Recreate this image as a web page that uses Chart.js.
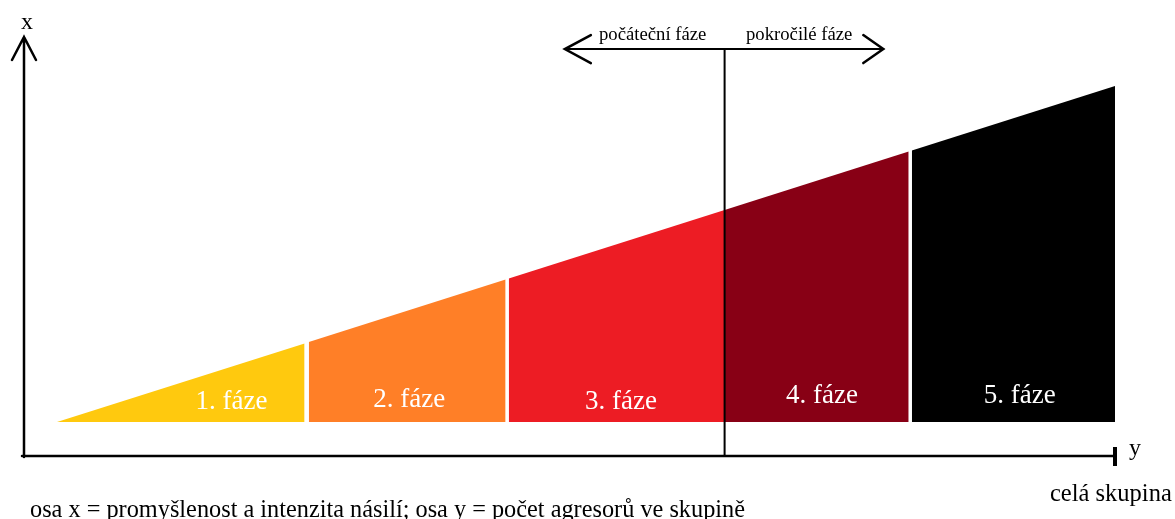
<!DOCTYPE html>
<html>
<head>
<meta charset="utf-8">
<script src="https://cdn.jsdelivr.net/npm/chart.js@4.4.0/dist/chart.umd.min.js"></script>
<style>
    html, body { margin: 0; padding: 0; background: #fff; }
    #wrap { width: 1175px; height: 519px; }
</style>
</head>
<body>
<div id="wrap"><canvas id="myChart" width="1175" height="519"></canvas></div>
<script>
// phases of the wedge: x = size of the group, y = intensity
var phaseLabels = ['1. fáze', '2. fáze', '3. fáze', '4. fáze', '5. fáze'];
var phaseStart = [0, 23.8, 42.7, 63.1, 80.8];
var phaseEnd = [23.4, 42.4, 63.1, 80.5, 100];
var heightStart = [0, 23.8, 42.7, 63.1, 80.8];
var heightEnd = [23.4, 42.4, 63.1, 80.5, 100];
var phaseColors = ['#ffc90e', '#ff7f27', '#ed1c24', '#880015', '#000000'];

// where the text of each phase sits
var labelX = [16.5, 33.3, 53.3, 72.3, 91.0];
var labelY = [3.9, 4.5, 3.9, 5.6, 5.6];

// border between early and advanced phases + the double arrow above it
var dividerX = phaseEnd[2];
var arrowFrom = 48.0, arrowTo = 78.1, arrowY = 111;

var datasets = [];
phaseLabels.forEach(function(lbl, i) {
    datasets.push({
        label: lbl,
        data: [{ x: phaseStart[i], y: heightStart[i] }, { x: phaseEnd[i], y: heightEnd[i] }],
        backgroundColor: phaseColors[i],
        borderWidth: 0,
        pointRadius: 0,
        fill: { value: 0 },
        tension: 0
    });
});

var serif = '"Liberation Serif", "Times New Roman", serif';

// axes, arrows and texts
var sketchPlugin = {
    id: 'sketch',
    afterDatasetsDraw: function(chart) {
        var ctx = chart.ctx;
        var xs = chart.scales.x, ys = chart.scales.y;
        var left = chart.chartArea.left, bottom = chart.chartArea.bottom, top = chart.chartArea.top;
        var right = xs.getPixelForValue(100);

        ctx.save();
        ctx.strokeStyle = '#000';
        ctx.fillStyle = '#000';
        ctx.lineWidth = 2.5;
        ctx.lineCap = 'round';

        // y axis with arrow
        ctx.beginPath();
        ctx.moveTo(left, bottom + 1);
        ctx.lineTo(left, top);
        ctx.moveTo(left - 12, top + 23);
        ctx.lineTo(left, top);
        ctx.lineTo(left + 12, top + 23);
        ctx.stroke();

        // x axis with end bar
        ctx.beginPath();
        ctx.moveTo(left - 2, bottom);
        ctx.lineTo(right, bottom);
        ctx.stroke();
        ctx.fillRect(right - 2, bottom - 9, 4, 19);

        // divider + double arrow
        var dx = xs.getPixelForValue(dividerX);
        var ay = ys.getPixelForValue(arrowY);
        var a1 = xs.getPixelForValue(arrowFrom), a2 = xs.getPixelForValue(arrowTo);
        ctx.lineWidth = 2;
        ctx.beginPath();
        ctx.moveTo(dx, ay);
        ctx.lineTo(dx, bottom);
        ctx.moveTo(a1, ay);
        ctx.lineTo(a2, ay);
        ctx.stroke();
        ctx.lineWidth = 2.5;
        ctx.beginPath();
        ctx.moveTo(a1 + 26, ay - 14);
        ctx.lineTo(a1, ay);
        ctx.lineTo(a1 + 26, ay + 14);
        ctx.moveTo(a2 - 20, ay - 14);
        ctx.lineTo(a2, ay);
        ctx.lineTo(a2 - 20, ay + 14);
        ctx.stroke();

        // phase names
        ctx.fillStyle = '#fff';
        ctx.font = '27px ' + serif;
        ctx.textAlign = 'center';
        ctx.textBaseline = 'alphabetic';
        phaseLabels.forEach(function(lbl, i) {
            ctx.fillText(lbl, xs.getPixelForValue(labelX[i]), ys.getPixelForValue(labelY[i]));
        });

        ctx.fillStyle = '#000';
        ctx.font = '18.7px ' + serif;
        ctx.textAlign = 'left';
        ctx.fillText('počáteční fáze', 599, 40);
        ctx.fillText('pokročilé fáze', 746, 40);

        ctx.font = '24px ' + serif;
        ctx.textAlign = 'center';
        ctx.fillText('x', 27, 29);
        ctx.fillText('y', 1135, 455);

        ctx.font = '24.5px ' + serif;
        ctx.textAlign = 'left';
        ctx.fillText('celá skupina', 1050, 501);
        ctx.font = '24.3px ' + serif;
        ctx.fillText('osa x = promyšlenost a intenzita násilí; osa y = počet agresorů ve skupině', 30, 517);
        ctx.restore();
    }
};

var ctx = document.getElementById('myChart').getContext('2d');
var myChart = new Chart(ctx, {
    type: 'line',
    data: { datasets: datasets },
    options: {
        responsive: false,
        animation: false,
        devicePixelRatio: 1,
        layout: { padding: { left: 24, right: 60, top: 37, bottom: 63 } },
        plugins: { legend: { display: false }, tooltip: { enabled: false } },
        scales: {
            x: { type: 'linear', min: -3.12, max: 100, display: false },
            y: { type: 'linear', min: -10.12, max: 114.6, display: false }
        }
    },
    plugins: [sketchPlugin]
});
</script>
</body>
</html>
